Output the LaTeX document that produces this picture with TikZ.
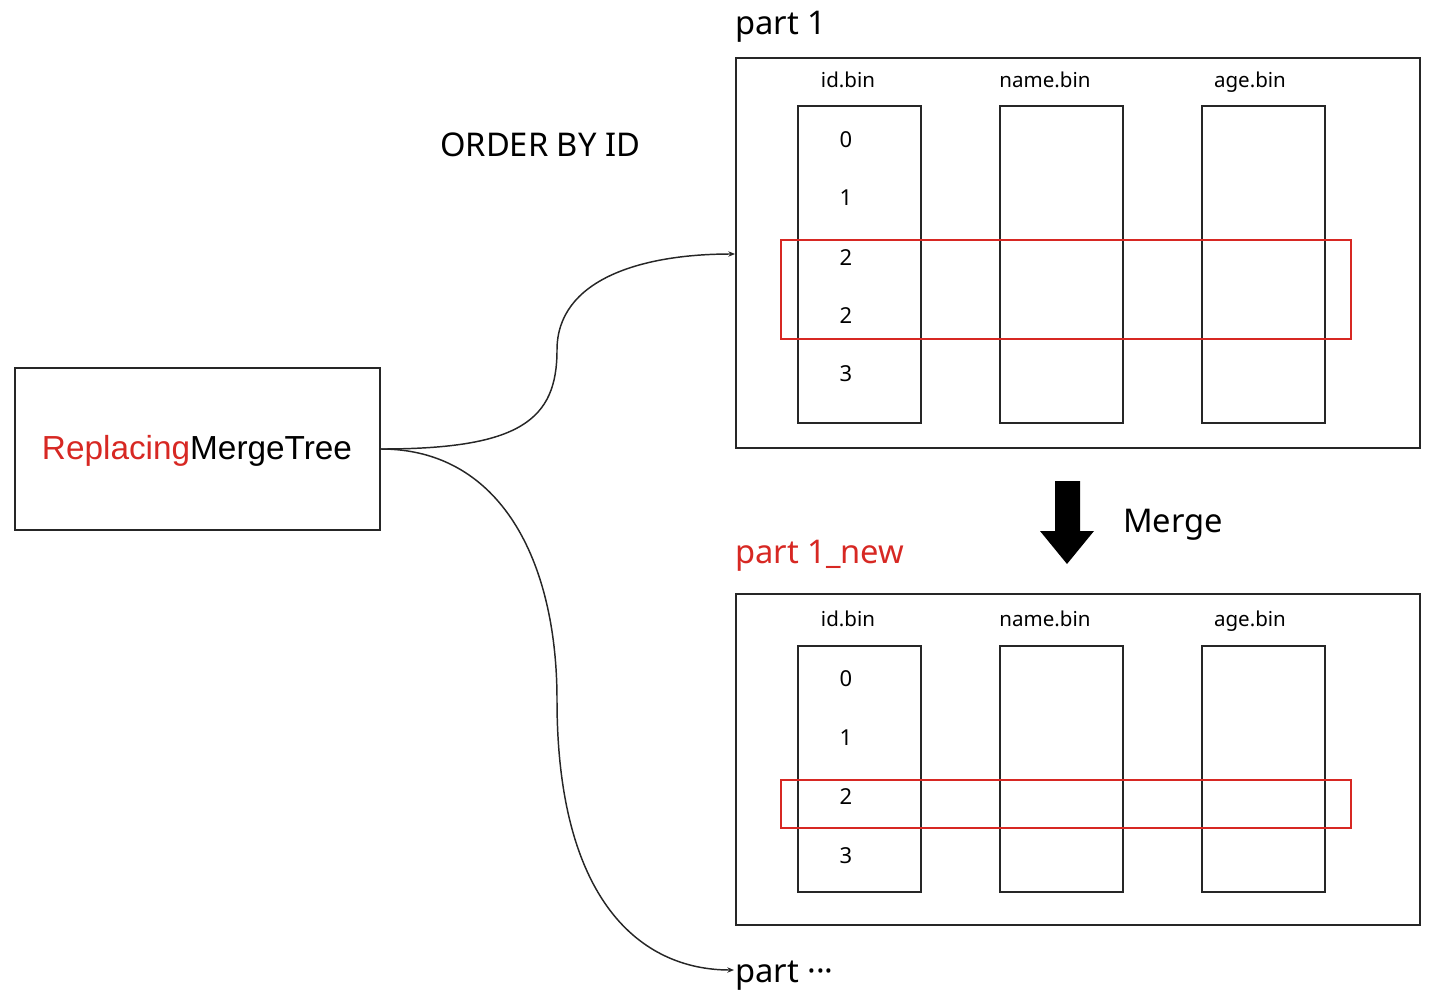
\documentclass[tikz,border=0pt]{standalone}
\usepackage{fontspec}
\setmainfont{Noto Sans}
\newfontfamily\helv{Liberation Sans}
\usetikzlibrary{arrows.meta}
\definecolor{hlred}{RGB}{215,40,35}
\begin{document}
\begin{tikzpicture}[x=0.75pt,y=-0.75pt,
  frame/.style={draw=black!85,line width=1.3pt},
  col/.style={draw=black!85,line width=1.2pt},
  hl/.style={draw=hlred,line width=1.2pt},
  hdr/.style={font=\fontsize{15.4}{17}\selectfont,anchor=base,inner sep=0pt},
  num/.style={font=\fontsize{16.5}{18}\selectfont,anchor=base,inner sep=0pt},
  big/.style={font=\fontsize{24.5}{28}\selectfont,inner sep=0pt,anchor=base west},
  link/.style={black!85,line width=1.1pt,-{Stealth[length=5pt,width=4pt]}}]
\useasboundingbox (0,0) rectangle (1442,992);
% source engine box
\draw[frame] (15,368) rectangle (380,530);
\node (src) at (197,451) {\helv\fontsize{25}{28}\selectfont\textcolor{hlred}{Replacing}MergeTree};
\coordinate (srcE) at (381,449);
% captions
\node[big] (p1lab) at (735,34) {part 1};
\node[big] (order) at (440,156) {ORDER BY ID};
\node[big,text=hlred] (p2lab) at (735,563) {part 1\_new};
\node[big] (merge) at (1123,532) {Merge};
% part 1
\draw[frame] (736,58) rectangle (1420,448);
\foreach \x in {798,1000,1202}{
  \draw[col] (\x,106) rectangle ++(123,317);
}
\node[hdr] (h1a) at (848,87) {id.bin};
\node[hdr] (h1b) at (1045,87) {name.bin};
\node[hdr] (h1c) at (1250,87) {age.bin};
\foreach \y/\v in {139/0,197/1,257/2,315/2,373/3}{
  \node[num] at (846,\y+8) {\v};
}
\draw[hl] (781,240) rectangle (1351,339);
\coordinate (p1in) at (735,254);
% merge arrow
\fill[black] (1055,481) -- (1080,481) -- (1080,531) -- (1094,531) -- (1067,564) -- (1040,531) -- (1055,531) -- cycle;
% part 1_new
\draw[frame] (736,594) rectangle (1420,925);
\foreach \x in {798,1000,1202}{
  \draw[col] (\x,646) rectangle ++(123,246);
}
\node[hdr] (h2a) at (848,626) {id.bin};
\node[hdr] (h2b) at (1045,626) {name.bin};
\node[hdr] (h2c) at (1250,626) {age.bin};
\foreach \y/\v in {678/0,737/1,796/2,855/3}{
  \node[num] at (846,\y+8) {\v};
}
\draw[hl] (781,780) rectangle (1351,828);
% remaining parts
\node[big] (pmore) at (735,982) {part ···};
\coordinate (pmoreIn) at (734,970);
% connectors
\draw[link] (srcE) .. controls (520,449) and (557,420) .. (557,350)
  .. controls (557,280) and (640,254) .. (p1in);
\draw[link] (srcE) .. controls (500,449) and (557,560) .. (557,700)
  .. controls (557,900) and (640,970) .. (pmoreIn);
\end{tikzpicture}
\end{document}
